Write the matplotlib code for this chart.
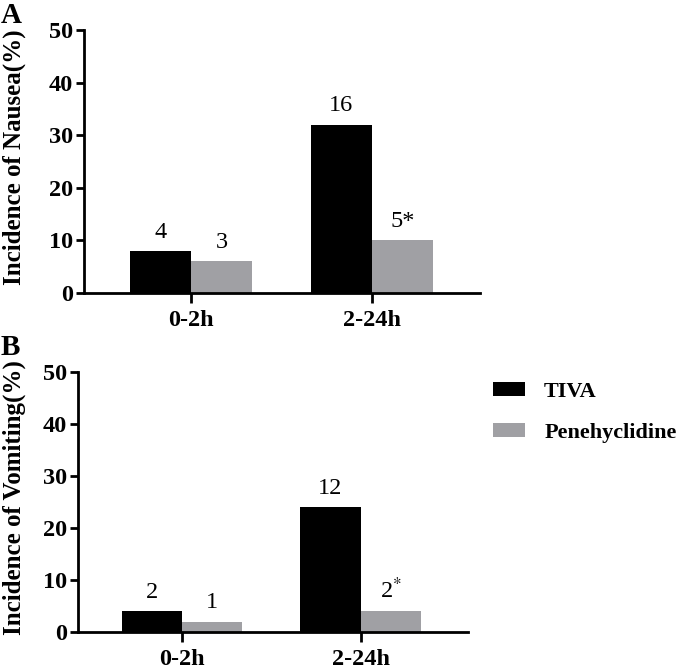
import numpy as np
import matplotlib
matplotlib.use("Agg")
import matplotlib.pyplot as plt
from matplotlib.patches import Patch

plt.rcParams["font.family"] = ["Liberation Serif", "DejaVu Serif"]
plt.rcParams["mathtext.fontset"] = "stix"

# data
categories = ["0-2h", "2-24h"]
groups = ["TIVA", "Penehyclidine"]
nausea_pct = {"TIVA": [8, 32], "Penehyclidine": [6, 10]}
nausea_labels = {"TIVA": ["4", "16"], "Penehyclidine": ["3", "5*"]}
vomit_pct = {"TIVA": [4, 24], "Penehyclidine": [2, 4]}
vomit_labels = {"TIVA": ["2", "12"], "Penehyclidine": ["1", r"2$^{*}$"]}
yticks = [0, 10, 20, 30, 40, 50]

colors = {"TIVA": "#000000", "Penehyclidine": "#a0a0a4"}
FS = 17.5


def draw_panel(ax, values, labels, ylabel, xlim, label_x):
    x = np.arange(len(categories))
    w = 0.337
    for i, g in enumerate(groups):
        xs = x + (i - 0.5) * w
        ax.bar(xs, values[g], width=w, color=colors[g], edgecolor="none")
        for xi, v, lab in zip(xs, values[g], labels[g]):
            ax.annotate(lab, (xi, v), xytext=(0, 6), textcoords="offset points",
                        ha="center", va="bottom", fontsize=FS)
    ax.set_xlim(*xlim)
    ax.set_ylim(0, 50)
    ax.set_yticks(yticks)
    ax.set_xticks(x)
    ax.set_xticklabels(categories, fontsize=FS, fontweight="bold")
    for t in ax.get_yticklabels():
        t.set_fontsize(FS)
        t.set_fontweight("bold")
    ax.set_ylabel(ylabel, fontsize=18, fontweight="bold")
    ax.yaxis.set_label_coords(label_x, 0.517)
    for s in ["top", "right"]:
        ax.spines[s].set_visible(False)
    for s in ["left", "bottom"]:
        ax.spines[s].set_linewidth(2.0)
    ax.tick_params(axis="y", length=6, width=2.0, pad=2)
    ax.tick_params(axis="x", length=7, width=2.0, pad=5)


fig = plt.figure(figsize=(6.85, 6.7), dpi=100)
axA = fig.add_axes([84 / 685, 1 - 293 / 670, 396 / 685, 263 / 670])
axB = fig.add_axes([78 / 685, 1 - 632 / 670, 390 / 685, 260 / 670])

draw_panel(axA, nausea_pct, nausea_labels, "Incidence of Nausea(%)", (-0.591, 1.597), -0.146)
draw_panel(axB, vomit_pct, vomit_labels, "Incidence of Vomiting(%)", (-0.583, 1.602), -0.133)

fig.text(1 / 685, 1 - 2 / 670, "A", fontsize=21, fontweight="bold", ha="left", va="top")
fig.text(1 / 685, 1 - 334 / 670, "B", fontsize=21, fontweight="bold", ha="left", va="top")

handles = [Patch(facecolor=colors[g], edgecolor="none") for g in groups]
fig.legend(handles, groups, loc="upper left", bbox_to_anchor=(493 / 685, 1 - 382 / 670),
           frameon=False, prop={"size": 16, "weight": "bold"},
           handlelength=1.45, handleheight=0.6, handletextpad=0.85,
           labelspacing=0.95, borderpad=0, borderaxespad=0)

fig.savefig("out.png", dpi=100)
